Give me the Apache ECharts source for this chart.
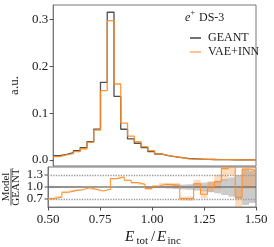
<!DOCTYPE html>
<html><head><meta charset="utf-8">
<script src="https://cdn.jsdelivr.net/npm/echarts@6/dist/echarts.min.js"></script>
<style>html,body{margin:0;padding:0;background:#fff}#c{width:274px;height:247px}</style>
</head><body><div id="c"></div>
<script>
// ---- data ----
const xMin = 0.5, xMax = 1.5, nBins = 30;
const xTicks = [0.5, 0.75, 1.0, 1.25, 1.5];
const yTicksTop = [0.0, 0.1, 0.2, 0.3];
const yTicksRatio = [0.7, 1.0, 1.3];
const geant = [0.0092,0.0120,0.0157,0.0200,0.0264,0.0390,0.0660,0.1656,0.3150,0.1356,
               0.0656,0.0450,0.0357,0.0264,0.0180,0.0128,0.0092,0.0070,0.0050,0.0036,
               0.0027,0.0020,0.0015,0.0011,0.0008,0.0006,0.0004,0.0003,0.0002,0.00015];
const vaeinn = [0.0070,0.0107,0.0135,0.0178,0.0240,0.0377,0.0635,0.1480,0.2970,0.1620,
                0.0786,0.0510,0.0390,0.0286,0.0200,0.0131,0.0098,0.0074,0.0053,0.0026,
                0.0019,0.0021,0.0012,0.0011,0.0009,0.0009,0.0007,0.0002,0.0003,0.0002];
const ratio = [0.71,0.75,0.87,0.91,0.93,0.98,0.94,0.90,0.945,1.21,
               1.25,1.17,1.11,1.07,0.96,1.02,1.07,1.06,1.05,0.71,
               0.71,1.08,0.82,1.01,1.13,1.46,1.70,0.74,1.45,1.41];
const geantErr = [0.03,0.025,0.02,0.02,0.015,0.01,0.01,0.005,0.005,0.005,
                  0.01,0.01,0.015,0.015,0.02,0.025,0.03,0.04,0.05,0.06,
                  0.07,0.09,0.11,0.13,0.16,0.20,0.24,0.30,0.45,0.40];
const modelErr = [0.03,0.03,0.025,0.02,0.015,0.01,0.01,0.005,0.005,0.01,
                  0.015,0.015,0.02,0.02,0.025,0.03,0.035,0.04,0.05,0.05,
                  0.06,0.10,0.10,0.13,0.18,0.30,0.40,0.25,0.50,0.45];

// ---- helpers ----
const edges = [];
for (let k = 0; k <= nBins; k++) edges.push(xMin + (xMax - xMin) * k / nBins);
function stepData(v) { const d = v.map((y, i) => [edges[i], y]); d.push([edges[nBins], v[nBins - 1]]); return d; }
function bandData(center, err) { return center.map((c, i) => [edges[i], edges[i + 1], c - err[i], c + err[i]]); }
const ones = geant.map(() => 1.0);

const FONT = 'Liberation Serif';
const TXT = '#1a1a1a';
const GREY = '#505050';
const ORANGE = '#ff8a24';
const FRAME = '#777';

function bandSeries(data, fill) {
  return {
    type: 'custom', xAxisIndex: 1, yAxisIndex: 1, silent: true, z: 1,
    encode: { x: [0, 1], y: [2, 3] },
    data: data,
    renderItem: (params, api) => {
      const p0 = api.coord([api.value(0), api.value(3)]);
      const p1 = api.coord([api.value(1), api.value(2)]);
      const cs = params.coordSys;
      const r = echarts.graphic.clipRectByRect(
        { x: p0[0], y: p0[1], width: p1[0] - p0[0], height: p1[1] - p0[1] },
        { x: cs.x, y: cs.y, width: cs.width, height: cs.height });
      return r && { type: 'rect', shape: r, style: { fill: fill } };
    }
  };
}

const staticGraphics = [
  { type: 'text', left: 185, top: 12, style: { text: 'e', font: 'italic 12px "Liberation Serif"', fill: TXT } },
  { type: 'text', left: 190.5, top: 9, style: { text: '+', font: '8px "Liberation Serif"', fill: TXT } },
  { type: 'text', left: 199, top: 12, style: { text: 'DS-3', font: '12px "Liberation Serif"', fill: TXT } },
  { type: 'group', x: 11, y: 187, rotation: Math.PI / 2, children: [
    { type: 'text', x: 0, y: -5, style: { text: 'Model', font: '11px "Liberation Serif"', fill: TXT, align: 'center', verticalAlign: 'middle' } },
    { type: 'line', shape: { x1: -18.5, y1: 0, x2: 18.5, y2: 0 }, style: { stroke: TXT, lineWidth: 0.8 } },
    { type: 'text', x: 0, y: 5.5, style: { text: 'GEANT', font: '11px "Liberation Serif"', fill: TXT, align: 'center', verticalAlign: 'middle' } }
  ] },
  { type: 'text', x: 125, y: 237, style: { text: 'E', font: 'italic 15px "Liberation Serif"', fill: TXT, verticalAlign: 'middle' } },
  { type: 'text', x: 136.5, y: 241, style: { text: 'tot', font: '11px "Liberation Serif"', fill: TXT, verticalAlign: 'middle' } },
  { type: 'text', x: 151, y: 237, style: { text: '/', font: '15px "Liberation Serif"', fill: TXT, verticalAlign: 'middle' } },
  { type: 'text', x: 157, y: 237, style: { text: 'E', font: 'italic 15px "Liberation Serif"', fill: TXT, verticalAlign: 'middle' } },
  { type: 'text', x: 167.5, y: 241, style: { text: 'inc', font: '11px "Liberation Serif"', fill: TXT, verticalAlign: 'middle' } }
];

const chart = echarts.init(document.getElementById('c'), null, { renderer: 'canvas' });
chart.setOption({
  animation: false,
  backgroundColor: '#fff',
  grid: [
    { left: 48, right: 18, top: 5, height: 161, show: true, borderColor: FRAME, borderWidth: 1, backgroundColor: 'transparent' },
    { left: 48, right: 18, top: 167, height: 40, show: true, borderColor: FRAME, borderWidth: 1, backgroundColor: 'transparent' }
  ],
  xAxis: [
    { gridIndex: 0, type: 'value', min: xMin, max: xMax,
      axisLabel: { show: false }, axisTick: { show: false }, axisLine: { show: false }, splitLine: { show: false } },
    { gridIndex: 1, type: 'value', min: xMin, max: xMax,
      axisLine: { show: true, lineStyle: { color: FRAME } },
      axisTick: { show: true, inside: false, length: 3.5, customValues: xTicks, lineStyle: { color: GREY } },
      axisLabel: { customValues: xTicks, formatter: v => v.toFixed(2), fontFamily: FONT, fontSize: 13, color: TXT, margin: 6 },
      splitLine: { show: false } }
  ],
  yAxis: [
    { gridIndex: 0, type: 'value', min: -0.0128, max: 0.3305,
      name: 'a.u.', nameLocation: 'middle', nameGap: 31,
      nameTextStyle: { fontFamily: FONT, fontSize: 13, color: TXT },
      axisLine: { show: true, lineStyle: { color: FRAME } },
      axisTick: { show: true, inside: false, length: 3.5, customValues: yTicksTop, lineStyle: { color: GREY } },
      axisLabel: { customValues: yTicksTop, formatter: v => v.toFixed(1), fontFamily: FONT, fontSize: 13, color: TXT, margin: 5 },
      splitLine: { show: false } },
    { gridIndex: 1, type: 'value', min: 0.5, max: 1.5,
      axisLine: { show: true, lineStyle: { color: FRAME } },
      axisTick: { show: false },
      axisLabel: { show: false },
      splitLine: { show: false } }
  ],
  legend: {
    data: ['GEANT', 'VAE+INN'], orient: 'vertical', left: 185, top: 27,
    itemWidth: 11, itemHeight: 1.6, icon: 'rect', itemGap: 2,
    textStyle: { fontFamily: FONT, fontSize: 12, color: TXT, padding: [0, 0, 0, 2] },
    selectedMode: false
  },
  series: [
    { name: 'GEANT', type: 'line', xAxisIndex: 0, yAxisIndex: 0, step: 'end', symbol: 'none',
      data: stepData(geant), lineStyle: { color: GREY, width: 1.3 }, itemStyle: { color: GREY }, z: 3 },
    { name: 'VAE+INN', type: 'line', xAxisIndex: 0, yAxisIndex: 0, step: 'end', symbol: 'none',
      data: stepData(vaeinn), lineStyle: { color: ORANGE, width: 1.3, opacity: 0.9 }, itemStyle: { color: '#fbb37a' }, z: 4 },
    bandSeries(bandData(ones, geantErr), 'rgba(130,130,130,0.42)'),
    bandSeries(bandData(ratio, modelErr), 'rgba(255,140,40,0.30)'),
    { name: 'geant_ratio', type: 'line', xAxisIndex: 1, yAxisIndex: 1, step: 'end', symbol: 'none',
      data: stepData(ones), lineStyle: { color: GREY, width: 1.2 }, z: 3, silent: true,
      markLine: { silent: true, symbol: 'none', label: { show: false },
        data: [ { yAxis: 1.3, lineStyle: { color: '#999', type: 'dotted', width: 1.3 } },
                { yAxis: 0.7, lineStyle: { color: '#999', type: 'dotted', width: 1.3 } } ] } },
    { name: 'model_ratio', type: 'line', xAxisIndex: 1, yAxisIndex: 1, step: 'end', symbol: 'none', clip: true,
      data: stepData(ratio), lineStyle: { color: ORANGE, width: 1.1, opacity: 0.9 }, z: 4, silent: true }
  ],
  graphic: staticGraphics
});

// ratio-panel y ticks and labels, positioned through the ratio axis scale
const ratioTickGraphics = [];
yTicksRatio.forEach(v => {
  const p = chart.convertToPixel({ xAxisIndex: 1, yAxisIndex: 1 }, [xMin, v]);
  ratioTickGraphics.push({ type: 'line', shape: { x1: p[0] - 3.5, y1: p[1], x2: p[0], y2: p[1] }, style: { stroke: GREY, lineWidth: 1 } });
  ratioTickGraphics.push({ type: 'text', x: p[0] - 5, y: p[1], style: { text: v.toFixed(1), font: '13px "Liberation Serif"', fill: TXT, align: 'right', verticalAlign: 'middle' } });
});
chart.setOption({ graphic: staticGraphics.concat(ratioTickGraphics) });
</script>
</body></html>
